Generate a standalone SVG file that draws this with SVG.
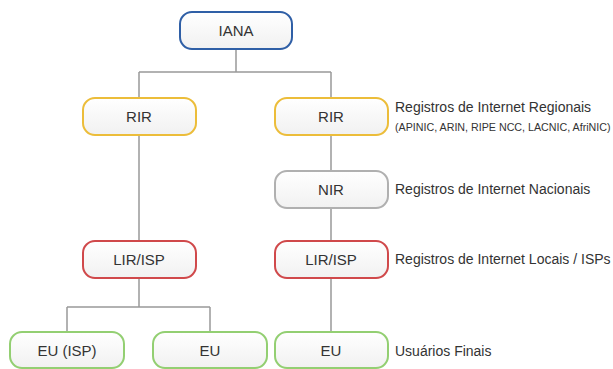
<svg xmlns="http://www.w3.org/2000/svg" width="613" height="369" viewBox="0 0 613 369">
<defs>
<linearGradient id="g" x1="0" y1="0" x2="0" y2="1"><stop offset="0" stop-color="#ffffff"/><stop offset="1" stop-color="#f1f1f1"/></linearGradient>
<style>
.n{fill:url(#g);stroke-width:2}
.blue{stroke:#2f5fa6}.yel{stroke:#ecbd3a}.gray{stroke:#b0b0b0}.red{stroke:#d0494b}.grn{stroke:#93cf72}
.t{font-family:"Liberation Sans",Arial,sans-serif;font-size:15px;fill:#333;text-anchor:middle}
.s{font-family:"Liberation Sans",Arial,sans-serif;font-size:14px;fill:#333}
.xs{font-family:"Liberation Sans",Arial,sans-serif;font-size:10.7px;fill:#333}
.c{fill:none;stroke:#999;stroke-width:1.5}
</style>
</defs>
<rect width="613" height="369" fill="#fff"/>
<g id="connectors">
<path class="c" d="M236 49V72M139 72H331M139 72V98M331 72V98"/>
<path class="c" d="M139 135V241"/>
<path class="c" d="M331 135V171M331 208V241M331 278V332"/>
<path class="c" d="M139 278V307M67 307H210M67 307V332M210 307V332"/>
</g>
<g id="iana"><rect class="n blue" x="180" y="12" width="112" height="37" rx="12"/><text class="t" x="236" y="36">IANA</text></g>
<g id="rir1"><rect class="n yel" x="83" y="98" width="113" height="37" rx="12"/><text class="t" x="139" y="122">RIR</text></g>
<g id="rir2"><rect class="n yel" x="275" y="98" width="113" height="37" rx="12"/><text class="t" x="331" y="122">RIR</text></g>
<g id="nir"><rect class="n gray" x="275" y="171" width="113" height="37" rx="12"/><text class="t" x="331" y="195">NIR</text></g>
<g id="lir1"><rect class="n red" x="83" y="241" width="113" height="37" rx="12"/><text class="t" x="139" y="265">LIR/ISP</text></g>
<g id="lir2"><rect class="n red" x="275" y="241" width="113" height="37" rx="12"/><text class="t" x="331" y="265">LIR/ISP</text></g>
<g id="eu1"><rect class="n grn" x="10" y="332" width="114" height="36" rx="12"/><text class="t" x="67" y="356">EU (ISP)</text></g>
<g id="eu2"><rect class="n grn" x="153" y="332" width="114" height="36" rx="12"/><text class="t" x="210" y="356">EU</text></g>
<g id="eu3"><rect class="n grn" x="275" y="332" width="113" height="36" rx="12"/><text class="t" x="331" y="356">EU</text></g>
<g id="labels">
<text class="s" x="395" y="112">Registros de Internet Regionais</text>
<text class="xs" x="395" y="131">(APINIC, ARIN, RIPE NCC, LACNIC, AfriNIC)</text>
<text class="s" x="395" y="194">Registros de Internet Nacionais</text>
<text class="s" x="395" y="264">Registros de Internet Locais / ISPs</text>
<text class="s" x="395" y="356">Usuários Finais</text>
</g>
</svg>
